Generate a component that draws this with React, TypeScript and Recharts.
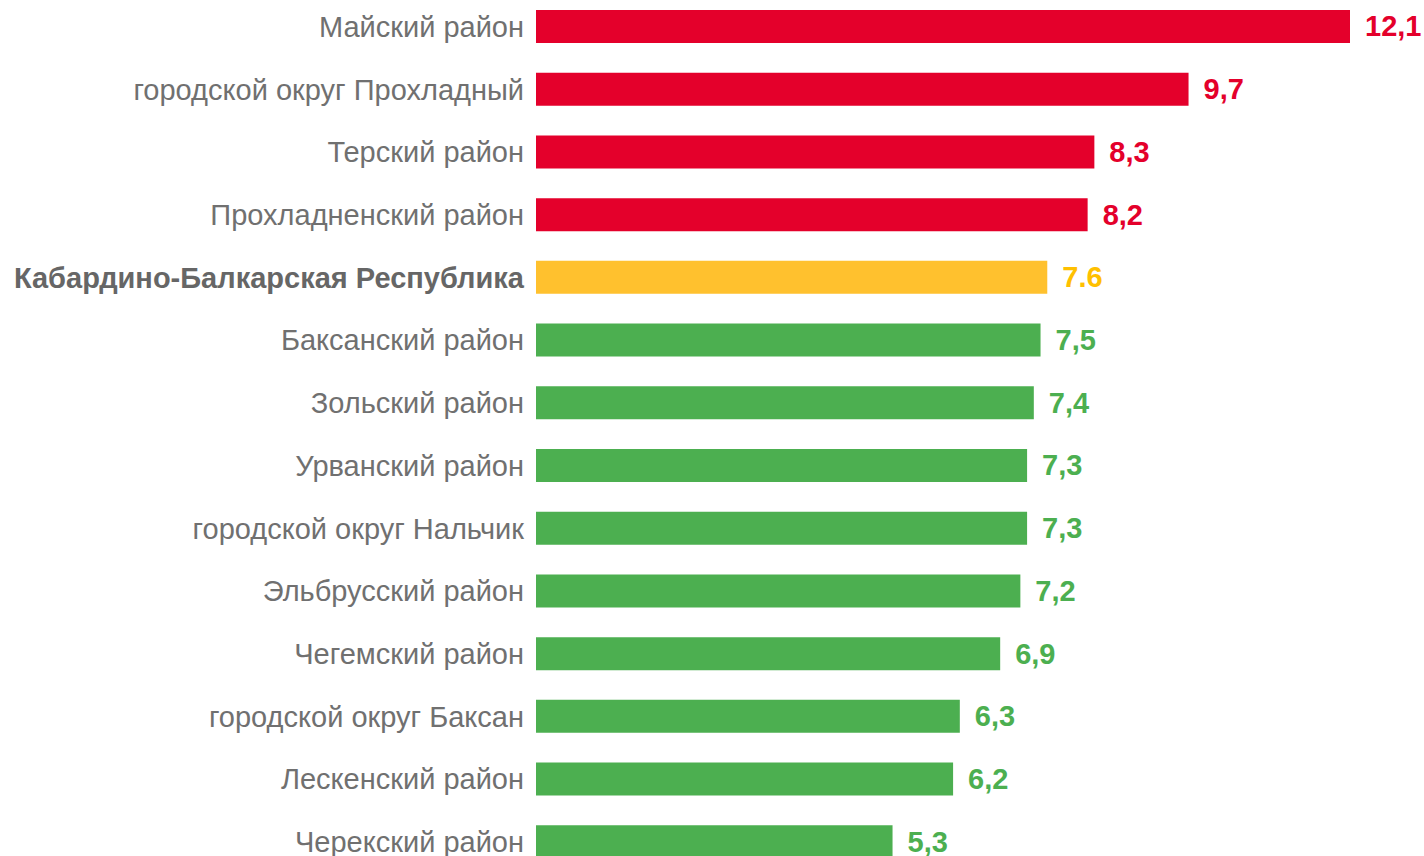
import { BarChart, Bar, XAxis, YAxis, Cell, LabelList } from 'recharts';

const regions = [
  'Майский район',
  'городской округ Прохладный',
  'Терский район',
  'Прохладненский район',
  'Кабардино-Балкарская Республика',
  'Баксанский район',
  'Зольский район',
  'Урванский район',
  'городской округ Нальчик',
  'Эльбрусский район',
  'Чегемский район',
  'городской округ Баксан',
  'Лескенский район',
  'Черекский район',
];
const values = [12.1, 9.7, 8.3, 8.2, 7.6, 7.5, 7.4, 7.3, 7.3, 7.2, 6.9, 6.3, 6.2, 5.3];
const valueLabels = ['12,1', '9,7', '8,3', '8,2', '7.6', '7,5', '7,4', '7,3', '7,3', '7,2', '6,9', '6,3', '6,2', '5,3'];
const groups = ['high', 'high', 'high', 'high', 'total', 'low', 'low', 'low', 'low', 'low', 'low', 'low', 'low', 'low'];

const BAR_COLORS: Record<string, string> = { high: '#E4002B', total: '#FFC12E', low: '#4CAF50' };
const TEXT_COLORS: Record<string, string> = { high: '#E4002B', total: '#FFC000', low: '#4CAF50' };
const FONT = 'Arial, "Liberation Sans", sans-serif';

const data = regions.map((name, i) => ({ name, value: values[i], label: valueLabels[i], group: groups[i] }));

function RegionTick({ x, y, payload }: any) {
  const bold = payload.value === 'Кабардино-Балкарская Республика';
  return (
    <text x={x} y={y} dy="0.36em" textAnchor="end" fontFamily={FONT} fontSize={29}
      fontWeight={bold ? 700 : 400} fill={bold ? '#666666' : '#707070'}>
      {payload.value}
    </text>
  );
}

function ValueLabel({ x, y, width, height, index }: any) {
  const d = data[index];
  return (
    <text x={x + width + 15} y={y + height / 2} dy="0.34em" textAnchor="start" fontFamily={FONT}
      fontSize={29} fontWeight={700} fill={TEXT_COLORS[d.group]}>
      {d.label}
    </text>
  );
}

export default function App() {
  return (
    <div style={{ position: 'absolute', left: 0, top: 0, width: 1424, height: 856, overflow: 'hidden', background: '#fff' }}>
      <div style={{ marginTop: -5 }}>
        <BarChart width={1424} height={878} data={data} layout="vertical"
          margin={{ top: 0, right: 0, bottom: 0, left: 0 }} barSize={33}>
          <XAxis type="number" domain={[0, 13.2]} hide />
          <YAxis type="category" dataKey="name" width={536} axisLine={false} tickLine={false}
            tickSize={0} tickMargin={12} tick={<RegionTick />} interval={0} />
          <Bar dataKey="value" isAnimationActive={false}>
            {data.map((d, i) => (
              <Cell key={i} fill={BAR_COLORS[d.group]} />
            ))}
            <LabelList dataKey="label" content={<ValueLabel />} />
          </Bar>
        </BarChart>
      </div>
    </div>
  );
}
